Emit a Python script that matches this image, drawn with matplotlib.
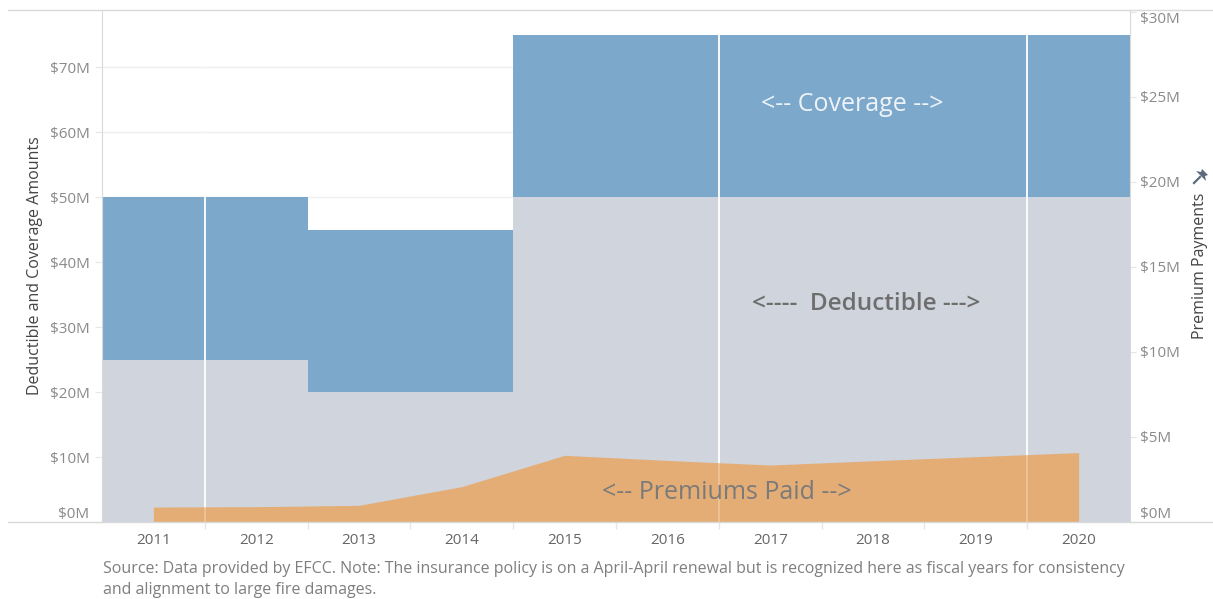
import matplotlib

matplotlib.use("Agg")

import matplotlib.pyplot as plt  # noqa: E402
import matplotlib.ticker as mticker  # noqa: E402
from matplotlib.lines import Line2D  # noqa: E402
from matplotlib.patches import Polygon  # noqa: E402

plt.rcParams["font.family"] = ["Open Sans", "DejaVu Sans"]

W, H, DPI = 1213, 599, 100

years = [2011, 2012, 2013, 2014, 2015, 2016, 2017, 2018, 2019, 2020]
deductible = [25, 25, 20, 20, 50, 50, 50, 50, 50, 50]      # $M, left axis
coverage = [25, 25, 25, 25, 25, 25, 25, 25, 25, 25]        # $M above deductible
premiums = [0.88, 0.90, 0.98, 2.08, 3.92, 3.62, 3.35, 3.60, 3.84, 4.08]  # $M, right axis
divider_years = [2011.5, 2016.5, 2019.5]

left_ticks = [0, 10, 20, 30, 40, 50, 60, 70]
right_ticks = [0, 5, 10, 15, 20, 25, 30]

BLUE = "#7ca8cb"
GREY = "#cfd4dd"
ORANGE = "#e5ab70"
TICK_GREY = "#8a8a8a"
LINE_GREY = "#d9d9d9"

fig = plt.figure(figsize=(W / DPI, H / DPI), dpi=DPI)
ax = fig.add_axes([102 / W, (H - 522) / H, (1130 - 102) / W, (522 - 10) / H])

ax.bar(years, deductible, width=1.0, color=GREY, linewidth=0, zorder=2)
ax.bar(years, coverage, bottom=deductible, width=1.0, color=BLUE, linewidth=0, zorder=2)

# white dividers drawn up to the top of the bar they cross
divider_tops = []
for x in divider_years:
    idx = min(range(len(years)), key=lambda i: abs(years[i] + 0.5 - x))
    top = deductible[idx] + coverage[idx]
    divider_tops.append(top)
    ax.vlines(x, 0, top, color="white", linewidth=1.3, zorder=3)

ax.set_xlim(2010.5, 2020.5)
ax.set_ylim(0, 78.8)
ax.set_yticks(left_ticks)
ax.yaxis.set_major_formatter(mticker.FuncFormatter(lambda v, _p: f"${v:.0f}M"))
ax.grid(True, axis="y", color="#efefef", linewidth=1, zorder=0)
ax.set_axisbelow(True)

ax.set_xticks(years)
ax.set_xticklabels([str(y) for y in years])
ax.set_xticks([y + 0.5 for y in years[:-1]], minor=True)
ax.tick_params(axis="x", which="major", length=0, pad=8, labelsize=11, labelcolor="#666666")
ax.tick_params(axis="x", which="minor", length=5, color="#e6e6e6", width=1)
ax.tick_params(axis="y", length=5, color="#e6e6e6", pad=4, labelsize=11, labelcolor=TICK_GREY)
for lbl in ax.get_yticklabels():
    if lbl.get_text() == "$0M":
        lbl.set_va("bottom")

for side in ("top", "right", "bottom"):
    ax.spines[side].set_visible(False)
ax.spines["left"].set_color(LINE_GREY)

ax.set_ylabel("Deductible and Coverage Amounts", fontsize=11.5, color="#444444", labelpad=5)

ax2 = ax.twinx()
ax2.fill_between(years, premiums, 0, color=ORANGE, alpha=0.95, linewidth=0, zorder=4)
# dividers stay faintly visible through the premium area
ax2.vlines(divider_years, 0, 30.1, color="white", linewidth=1.3, alpha=0.25, zorder=5)
ax2.set_ylim(0, 30.1)
ax2.set_yticks(right_ticks)
ax2.yaxis.set_major_formatter(mticker.FuncFormatter(lambda v, _p: f"${v:.0f}M"))
ax2.tick_params(axis="y", length=4, color="#e6e6e6", pad=3, labelsize=11, labelcolor=TICK_GREY)
for lbl in ax2.get_yticklabels():
    if lbl.get_text() == "$0M":
        lbl.set_va("bottom")
    if lbl.get_text() == "$30M":
        lbl.set_va("top")
for side in ("top", "left", "bottom"):
    ax2.spines[side].set_visible(False)
ax2.spines["right"].set_color(LINE_GREY)
ax2.set_ylabel("Premium Payments", fontsize=11.5, color="#444444", labelpad=9)

# annotations inside the bands
ax.text(2017.8, 64.2, "<-- Coverage -->", ha="center", va="center",
        fontsize=18, color="#eef3f8", zorder=6)
ax.text(2017.93, 33.5, "<----  Deductible --->", ha="center", va="center",
        fontsize=17.5, fontweight="semibold", color="#6e6e6e", zorder=6)
ax2.text(2016.58, 1.76, "<-- Premiums Paid -->", ha="center", va="center",
         fontsize=18, color="#7a7a7a", zorder=10)

# full-width frame lines
fig.add_artist(Line2D([8 / W, 1.0], [(H - 10) / H] * 2, color=LINE_GREY, linewidth=1))
fig.add_artist(Line2D([8 / W, 1.0], [(H - 522) / H] * 2, color=LINE_GREY, linewidth=1))

# little thumbtack next to the right axis title
cx, cy = 1200, 177
head = [(cx + 2, cy - 8), (cx + 8, cy - 2), (cx + 5, cy - 1), (cx + 6, cy + 4),
        (cx - 4, cy - 6), (cx + 1, cy - 5)]
fig.add_artist(Polygon([(x / W, (H - y) / H) for x, y in head], closed=True,
                       transform=fig.transFigure, color="#5b6b7d", linewidth=0))
fig.add_artist(Line2D([(cx + 0) / W, (cx - 6) / W], [(H - cy) / H, (H - cy - 6) / H],
                      color="#5b6b7d", linewidth=1.6))

note = ("Source: Data provided by EFCC. Note: The insurance policy is on a April-April renewal "
        "but is recognized here as fiscal years for consistency\nand alignment to large fire damages.")
fig.text(103 / W, (H - 561) / H, note, ha="left", va="top", fontsize=11.5,
         color="#7f7f7f", linespacing=1.45)

fig.savefig("out.png", dpi=DPI)
